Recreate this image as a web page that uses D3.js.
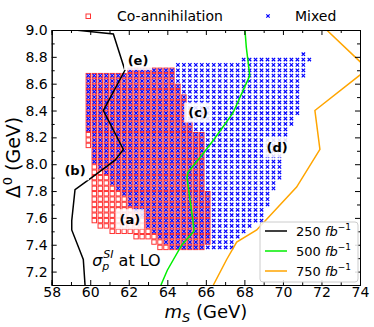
<!DOCTYPE html>
<html>
<head>
<meta charset="utf-8">
<script src="https://cdn.jsdelivr.net/npm/d3@7"></script>
<style>
body { margin: 0; background: #fff; }
text { font-family: "DejaVu Sans", sans-serif; }
</style>
</head>
<body>
<div id="chart"></div>
<script>
// scan columns (m_S in GeV)
const colMS = [59.90, 60.21, 60.52, 60.83, 61.14, 61.45, 61.76, 62.07, 62.38, 62.69,
    63.00, 63.31, 63.62, 63.93, 64.24, 64.55, 64.86, 65.17, 65.48, 65.79,
    66.10, 66.41, 66.72, 67.03, 67.34, 67.65, 67.96, 68.27, 68.58, 68.89,
    69.20, 69.51, 69.82, 70.13, 70.44, 70.75, 71.06, 71.37]
const dStep = 0.04

// co-annihilation: lowest / highest Delta0 in each column (first 21 columns)
const coLo = [8.14, 7.58, 7.54, 7.54, 7.50, 7.50, 7.50, 7.50, 7.46, 7.46,
    7.46, 7.42, 7.38, 7.38, 7.38, 7.38, 7.38, 7.38, 7.38, 7.38, 7.42]
const coHi = [8.66, 8.66, 8.66, 8.66, 8.66, 8.66, 8.66, 8.70, 8.70, 8.70,
    8.70, 8.70, 8.70, 8.70, 8.70, 8.58, 8.50, 8.30, 8.22, 8.22, 7.78]

// mixed
const mixLo = [8.26, 8.02, 7.98, 7.94, 7.86, 7.82, 7.78, 7.70, 7.66, 7.62,
    7.54, 7.50, 7.46, 7.42, 7.38, 7.38, 7.38, 7.38, 7.38, 7.38,
    7.38, 7.38, 7.38, 7.38, 7.38, 7.46, 7.50, 7.54, 7.58, 7.58,
    7.70, 7.82, 7.90, 8.18, 8.30, 8.38, 8.66, 8.78]
const mixHi = [8.66, 8.66, 8.66, 8.66, 8.66, 8.66, 8.66, 8.70, 8.70, 8.70,
    8.70, 8.70, 8.70, 8.70, 8.70, 8.74, 8.74, 8.74, 8.74, 8.74,
    8.74, 8.74, 8.74, 8.74, 8.74, 8.74, 8.78, 8.78, 8.78, 8.78,
    8.78, 8.78, 8.78, 8.78, 8.78, 8.78, 8.82, 8.78]

// sigma_p^SI contours
const line250 = [[59.21, 9.00], [61.20, 8.97], [61.80, 8.70], [60.68, 8.40], [61.72, 8.11],
    [61.29, 8.03], [60.16, 7.91], [59.21, 7.81], [59.04, 7.58], [59.04, 7.51],
    [59.64, 7.29], [59.73, 7.10]]
const line500 = [[68.03, 9.00], [68.10, 8.87], [68.28, 8.66], [67.40, 8.38], [66.40, 8.18],
    [65.70, 8.05], [65.07, 7.94], [65.02, 7.90], [65.33, 7.58], [65.38, 7.50],
    [64.76, 7.40], [64.00, 7.21], [63.67, 7.10]]
const line750 = [[72.27, 9.00], [74.40, 8.71], [71.66, 8.40], [71.92, 8.11], [70.71, 7.83],
    [68.64, 7.51], [67.60, 7.42], [67.08, 7.29], [66.39, 7.10]]

const lumiLabels = ["250", "500", "750"]
const lumiColors = ["#000000", "#00ee00", "#ffa500"]

const regionLabels = [
    {t: "(e)", x: 62.48, y: 8.776},
    {t: "(c)", x: 65.60, y: 8.385},
    {t: "(d)", x: 69.70, y: 8.125},
    {t: "(a)", x: 62.06, y: 7.59},
    {t: "(b)", x: 59.21, y: 7.955}
]

const xTicks = [58, 60, 62, 64, 66, 68, 70, 72, 74]
const yTicks = [7.2, 7.4, 7.6, 7.8, 8.0, 8.2, 8.4, 8.6, 8.8, 9.0]

const outerWidth = 374
const outerHeight = 327
const margin = {top: 30, right: 14, bottom: 42, left: 51.7}
const w = outerWidth - margin.left - margin.right
const h = outerHeight - margin.top - margin.bottom

const svg = d3.select("#chart")
    .append("svg")
    .attr("width", outerWidth)
    .attr("height", outerHeight)

const g = svg.append("g")
    .attr("transform", `translate(${margin.left}, ${margin.top})`)

const xScale = d3.scaleLinear().domain([58, 74]).range([0, w])
const yScale = d3.scaleLinear().domain([7.1, 9.0]).range([h, 0])

g.append("clipPath").attr("id", "clip")
    .append("rect").attr("width", w).attr("height", h)

const plot = g.append("g").attr("clip-path", "url(#clip)")

function columnPoints(lo, hi) {
    const pts = []
    lo.forEach((l, i) => {
        for (let v = l; v <= hi[i] + 1e-6; v += dStep) pts.push([colMS[i], v])
    })
    return pts
}
const coPts = columnPoints(coLo, coHi)
const mixPts = columnPoints(mixLo, mixHi)

const sq = 4.4
plot.append("g").selectAll("rect")
    .data(coPts)
    .join("rect")
    .attr("x", d => xScale(d[0]) - sq / 2)
    .attr("y", d => yScale(d[1]) - sq / 2)
    .attr("width", sq)
    .attr("height", sq)
    .attr("fill", "none")
    .attr("stroke", "#ff0000")
    .attr("stroke-opacity", 0.8)
    .attr("stroke-width", 1)

const xs = 1.7
plot.append("g").selectAll("path")
    .data(mixPts)
    .join("path")
    .attr("d", d => {
        const cx = xScale(d[0]), cy = yScale(d[1])
        return `M${cx - xs},${cy - xs}L${cx + xs},${cy + xs}M${cx - xs},${cy + xs}L${cx + xs},${cy - xs}`
    })
    .attr("stroke", "#0000ff")
    .attr("stroke-width", 1.2)

const line = d3.line().x(d => xScale(d[0])).y(d => yScale(d[1]))
;[line250, line500, line750].forEach((data, i) => {
    plot.append("path")
        .datum(data)
        .attr("fill", "none")
        .attr("stroke", lumiColors[i])
        .attr("stroke-width", 1.5)
        .attr("d", line)
})

// region labels with white boxes
regionLabels.forEach(lab => {
    const cx = xScale(lab.x), cy = yScale(lab.y)
    plot.append("rect")
        .attr("x", cx - 14).attr("y", cy - 10)
        .attr("width", 28).attr("height", 20)
        .attr("fill", "#fff").attr("fill-opacity", 0.85)
    plot.append("text")
        .attr("x", cx).attr("y", cy)
        .attr("dy", "0.35em")
        .attr("text-anchor", "middle")
        .attr("font-size", 13)
        .attr("font-weight", "bold")
        .text(lab.t)
})

// sigma text
const sig = g.append("text")
    .attr("x", xScale(60.1))
    .attr("y", yScale(7.245))
    .attr("font-size", 16)
sig.append("tspan").attr("font-style", "italic").text("σ")
sig.append("tspan").attr("font-style", "italic").attr("font-size", 11).attr("dy", 4).text("p")
sig.append("tspan").attr("font-style", "italic").attr("font-size", 11).attr("dx", -6).attr("dy", -12).text("SI")
sig.append("tspan").attr("dy", 8).text(" at LO")

// axes, ticks inward on all sides
const xMinor = d3.range(59, 74, 2)
const yMinor = [7.1, 7.3, 7.5, 7.7, 7.9, 8.1, 8.3, 8.5, 8.7, 8.9]

g.append("g").attr("transform", `translate(0, ${h})`)
    .call(d3.axisBottom(xScale).tickValues(xTicks).tickSize(-5).tickPadding(2).tickFormat(d3.format("d")))
g.append("g").attr("transform", `translate(0, ${h})`)
    .call(d3.axisBottom(xScale).tickValues(xMinor).tickSize(-3).tickFormat(""))
g.append("g")
    .call(d3.axisTop(xScale).tickValues(xTicks).tickSize(-5).tickFormat(""))
g.append("g")
    .call(d3.axisTop(xScale).tickValues(xMinor).tickSize(-3).tickFormat(""))
g.append("g")
    .call(d3.axisLeft(yScale).tickValues(yTicks).tickSize(-5).tickPadding(4).tickFormat(d3.format(".1f")))
g.append("g")
    .call(d3.axisLeft(yScale).tickValues(yMinor).tickSize(-3).tickFormat(""))
g.append("g").attr("transform", `translate(${w}, 0)`)
    .call(d3.axisRight(yScale).tickValues(yTicks).tickSize(-5).tickFormat(""))
g.append("g").attr("transform", `translate(${w}, 0)`)
    .call(d3.axisRight(yScale).tickValues(yMinor).tickSize(-3).tickFormat(""))

g.selectAll(".tick text")
    .attr("font-size", 14)
    .attr("font-family", "DejaVu Sans")
    .attr("fill", "#000")
g.selectAll(".domain").attr("stroke", "#000")
g.selectAll(".tick line").attr("stroke", "#000")

// axis titles
const xt = svg.append("text")
    .attr("x", margin.left + w / 2)
    .attr("y", 318)
    .attr("text-anchor", "middle")
    .attr("font-size", 18)
xt.append("tspan").attr("font-style", "italic").text("m")
xt.append("tspan").attr("font-style", "italic").attr("font-size", 13).attr("dy", 4).text("S")
xt.append("tspan").attr("dy", -4).text(" (GeV)")

const yt = svg.append("text")
    .attr("transform", `translate(20, ${margin.top + h / 2}) rotate(-90)`)
    .attr("text-anchor", "middle")
    .attr("font-size", 19)
yt.append("tspan").text("Δ")
yt.append("tspan").attr("font-size", 13).attr("dy", -8).text("0")
yt.append("tspan").attr("dy", 8).text(" (GeV)")

// top legend
const topLegend = svg.append("g")
topLegend.append("rect")
    .attr("x", 86).attr("y", 14).attr("width", 4.5).attr("height", 4.5)
    .attr("fill", "none").attr("stroke", "#ff0000").attr("stroke-opacity", 0.8)
topLegend.append("text").attr("x", 117).attr("y", 21).attr("font-size", 14).text("Co-annihilation")
topLegend.append("path")
    .attr("d", `M${268 - xs},${16 - xs}L${268 + xs},${16 + xs}M${268 - xs},${16 + xs}L${268 + xs},${16 - xs}`)
    .attr("stroke", "#0000ff").attr("stroke-width", 1.2)
topLegend.append("text").attr("x", 295).attr("y", 21).attr("font-size", 14).text("Mixed")

// luminosity legend
const leg = svg.append("g").attr("transform", "translate(260, 222)")
leg.append("rect")
    .attr("width", 98).attr("height", 60).attr("rx", 3)
    .attr("fill", "#fff").attr("fill-opacity", 0.85)
    .attr("stroke", "#cccccc")
lumiLabels.forEach((lab, i) => {
    const yy = 9 + i * 20
    leg.append("line")
        .attr("x1", 5).attr("x2", 27).attr("y1", yy).attr("y2", yy)
        .attr("stroke", lumiColors[i]).attr("stroke-width", 1.5)
    const t = leg.append("text").attr("x", 36).attr("y", yy + 5).attr("font-size", 13)
    t.append("tspan").text(lab + " ")
    t.append("tspan").attr("font-style", "italic").text("fb")
    t.append("tspan").attr("font-size", 9).attr("dy", -6).text("−1")
})
</script>
</body>
</html>
